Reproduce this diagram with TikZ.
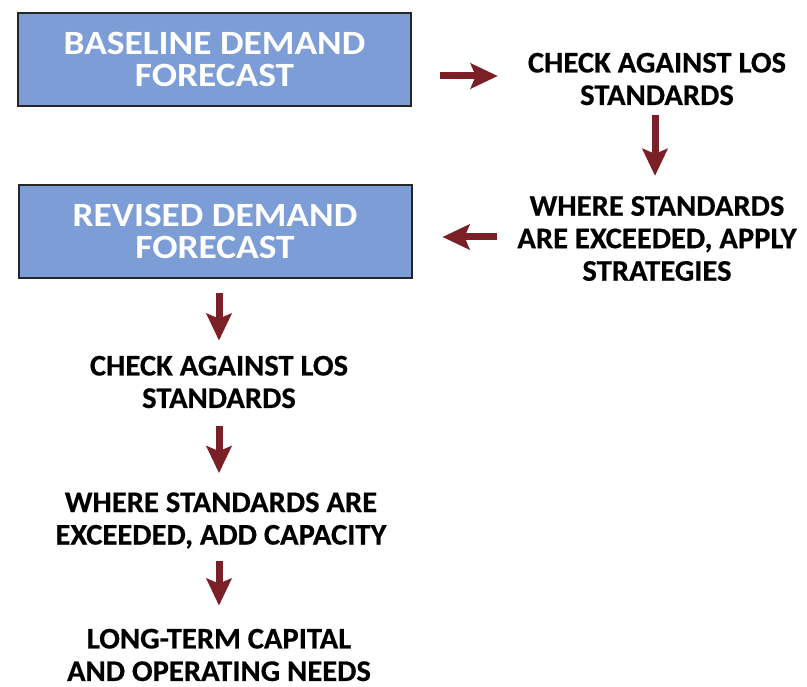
\documentclass[tikz,border=0pt]{standalone}
\usepackage{fontspec}
\setmainfont{Carlito}
\newfontfamily\boxfont{Carlito}[FakeStretch=1.1]
\newfontfamily\stepfont{Carlito}[FakeStretch=1.02, FakeBold=0.5]
\usetikzlibrary{arrows.meta, positioning}

\definecolor{boxblue}{RGB}{125,157,214}
\definecolor{arrowred}{RGB}{122,32,38}

\tikzset{
  forecast/.style={draw=black!85, line width=2pt, fill=boxblue,
    minimum width=393pt, minimum height=93pt, inner sep=0pt,
    text=white, align=center, font=\boxfont\fontsize{34}{32}\selectfont\bfseries},
  steptext/.style={inner sep=0pt, align=center,
    font=\stepfont\fontsize{30}{32.5}\selectfont\bfseries},
  flow/.style={draw=arrowred, line width=7pt,
    -{Stealth[length=27pt,width=25pt,inset=5pt]}}
}

\begin{document}
\begin{tikzpicture}[x=1pt, y=-1pt]
  \useasboundingbox (0,0) rectangle (807,687);

  % the two forecast boxes
  \node[forecast] (base) at (214.5,59.5) {BASELINE DEMAND\\FORECAST};
  \node[forecast] (rev) at (215,231.5) {REVISED DEMAND\\FORECAST};

  % right column
  \node[steptext] (chk1) at (657,79) {CHECK AGAINST LOS\\STANDARDS};
  \node[steptext] (where1) at (657,238.5) {WHERE STANDARDS\\ARE EXCEEDED, APPLY\\STRATEGIES};

  % left column
  \node[steptext] (chk2) at (219,382) {CHECK AGAINST LOS\\STANDARDS};
  \node[steptext] (add) at (221,520.5) {WHERE STANDARDS ARE\\EXCEEDED, ADD CAPACITY};
  \node[steptext] (needs) at (219,655) {LONG-TERM CAPITAL\\AND OPERATING NEEDS};

  % arrows
  \draw[flow, shorten <=28pt, shorten >=30pt] ([yshift=-16.5pt]base.east) -- ([yshift=3pt]chk1.west);
  \draw[flow, shorten <=10pt, shorten >=20pt] ([xshift=-2pt]chk1.south) -- ([xshift=-2pt]where1.north);
  \draw[flow, shorten <=20pt, shorten >=30pt] ([yshift=1.5pt]where1.west) -- ([yshift=-5.5pt]rev.east);
  \draw[flow, shorten <=14pt, shorten >=15pt] (chk2.north |- rev.south) -- (chk2.north);
  \draw[flow, shorten <=18pt, shorten >=19pt] (chk2.south) -- (chk2.south |- add.north);
  \draw[flow, shorten <=12pt, shorten >=23pt] (chk2.south |- add.south) -- (chk2.south |- needs.north);
\end{tikzpicture}
\end{document}
